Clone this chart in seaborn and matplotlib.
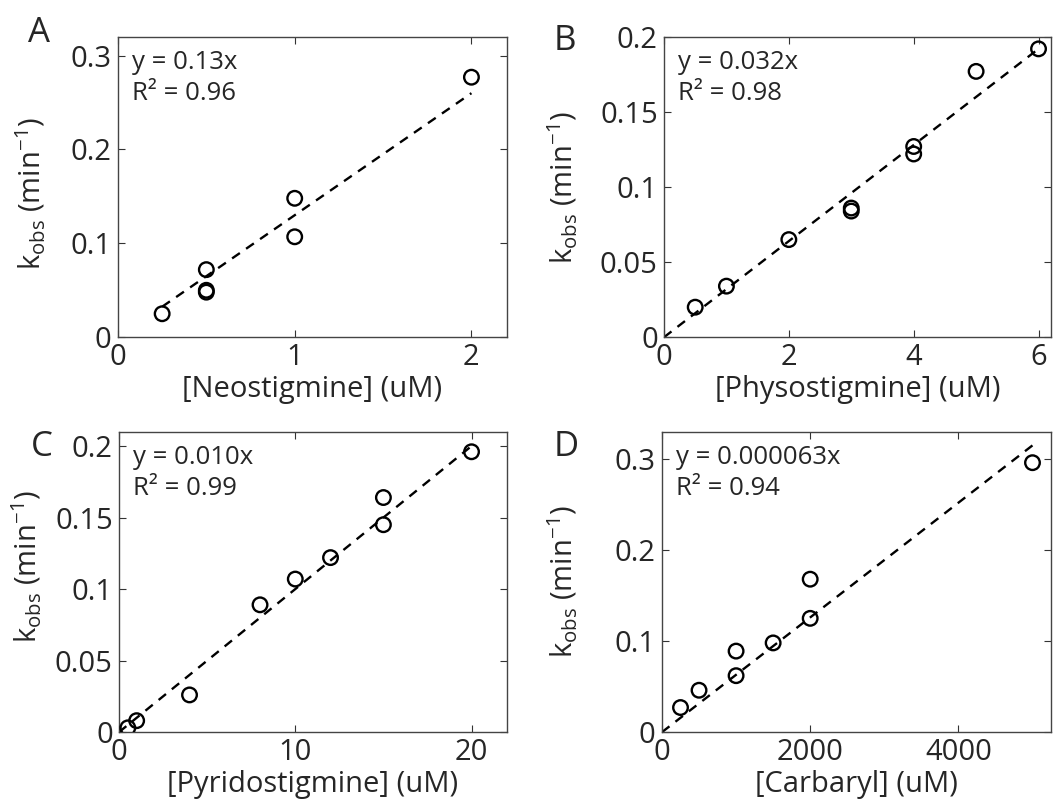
import numpy as np
import pandas as pd
import matplotlib
matplotlib.use("Agg")
import matplotlib.pyplot as plt
import seaborn as sns


# panel data
neo_x = [0.25, 0.5, 0.5, 0.5, 1, 1, 2]
neo_y = [0.025, 0.072, 0.050, 0.048, 0.148, 0.107, 0.277]

phy_x = [0.5, 1, 2, 3, 3, 4, 4, 5, 6]
phy_y = [0.020, 0.034, 0.065, 0.086, 0.084, 0.127, 0.122, 0.177, 0.192]

pyr_x = [0.5, 1, 4, 8, 10, 12, 15, 15, 20]
pyr_y = [0.003, 0.008, 0.026, 0.089, 0.107, 0.122, 0.164, 0.145, 0.196]

car_x = [250, 500, 1000, 1000, 1500, 2000, 2000, 5000]
car_y = [0.027, 0.046, 0.089, 0.062, 0.098, 0.168, 0.125, 0.296]

slopes = [0.13, 0.032, 0.010, 0.000063]
slope_labels = ["0.13", "0.032", "0.010", "0.000063"]
r2_labels = ["0.96", "0.98", "0.99", "0.94"]
fit_start = [0.25, 0, 0, 0]

x_labels = ["[Neostigmine] (uM)", "[Physostigmine] (uM)",
            "[Pyridostigmine] (uM)", "[Carbaryl] (uM)"]
panel_letters = ["A", "B", "C", "D"]

x_lims = [(0, 2.2), (0, 6.2), (0, 22), (0, 5250)]
y_lims = [(0, 0.32), (0, 0.2), (0, 0.21), (0, 0.33)]
x_ticks = [[0, 1, 2], [0, 2, 4, 6], [0, 10, 20], [0, 2000, 4000]]
y_ticks = [[0, 0.1, 0.2, 0.3], [0, 0.05, 0.1, 0.15, 0.2],
           [0, 0.05, 0.1, 0.15, 0.2], [0, 0.1, 0.2, 0.3]]


sns.set_style("ticks")
FONT = "Open Sans"
plt.rcParams["font.family"] = [FONT, "DejaVu Sans"]
plt.rcParams["mathtext.fontset"] = "custom"
plt.rcParams["mathtext.rm"] = FONT
plt.rcParams["mathtext.it"] = FONT


fig = plt.figure(figsize=(10.58, 8.01), dpi=100)

# axes boxes in figure fraction [left, bottom, width, height]
boxes = [
    [0.1115, 0.579, 0.3675, 0.375],
    [0.6276, 0.579, 0.3658, 0.375],
    [0.1125, 0.086, 0.3665, 0.375],
    [0.6257, 0.086, 0.3677, 0.375],
]
ylabel_x = [-0.18, -0.217, -0.193, -0.211]
ylabel_y = [0.48, 0.5, 0.55, 0.5]
letter_pos = [(0.026, 0.980), (0.523, 0.970), (0.029, 0.463), (0.523, 0.463)]

datasets = [(neo_x, neo_y), (phy_x, phy_y), (pyr_x, pyr_y), (car_x, car_y)]

for i, (xs, ys) in enumerate(datasets):

    ax = fig.add_axes(boxes[i])

    df = pd.DataFrame({"x": xs, "y": ys})

    fit = pd.DataFrame({"x": [fit_start[i], max(xs)]})
    fit["y"] = slopes[i] * fit["x"]

    sns.lineplot(
        data=fit, x="x", y="y", ax=ax,
        color="black", linewidth=1.7, dashes=(4, 3.2)
    )

    sns.scatterplot(
        data=df, x="x", y="y", ax=ax,
        marker="o", s=110, facecolors="none",
        edgecolor="black", linewidth=1.7, zorder=3
    )

    ax.set_xlim(*x_lims[i])
    ax.set_ylim(*y_lims[i])
    ax.set_xticks(x_ticks[i])
    ax.set_yticks(y_ticks[i])
    ax.set_xticklabels([f"{v:g}" for v in x_ticks[i]])
    ax.set_yticklabels([f"{v:g}" for v in y_ticks[i]])

    ax.tick_params(direction="in", length=5, width=0.8, top=True, right=True,
                   labelsize=21, pad=4.5, color="#333333")
    for sp in ax.spines.values():
        sp.set_visible(True)
        sp.set_color("#444444")
        sp.set_linewidth(1.0)

    ax.set_xlabel(x_labels[i], fontsize=21, labelpad=2)
    ax.set_ylabel(r"k$_{\mathrm{obs}}$ (min$^{-1}$)", fontsize=21)
    ax.yaxis.set_label_coords(ylabel_x[i], ylabel_y[i])

    ax.text(0.035, 0.955, f"y = {slope_labels[i]}x\nR\u00b2 = {r2_labels[i]}",
            transform=ax.transAxes, ha="left", va="top",
            fontsize=18.5, linespacing=1.3)

    fig.text(letter_pos[i][0], letter_pos[i][1], panel_letters[i],
             fontsize=25, ha="left", va="top")


fig.savefig("out.png", dpi=100)
